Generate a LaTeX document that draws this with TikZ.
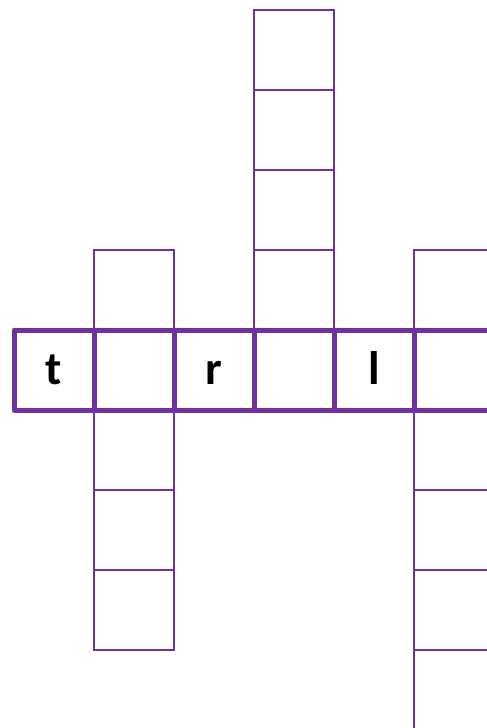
\documentclass[tikz,border=0pt]{standalone}
\usepackage{fontspec}
\setsansfont{Carlito}
\usepackage{tikz}
\usetikzlibrary{positioning}
\definecolor{gridpurple}{RGB}{112,48,160}

\begin{document}
\begin{tikzpicture}[
  x=1pt, y=-1pt,
  cell/.style={rectangle, draw=gridpurple, line width=2pt, minimum size=80pt, inner sep=0pt},
  rowcell/.style={cell, line width=5pt, line join=round, text height=28pt, text depth=0pt,
    font=\sffamily\bfseries\fontsize{47}{47}\selectfont}
]
  \useasboundingbox (0,0) rectangle (487,728);
  \clip (0,0) rectangle (487,728);
  % columns going across the row
  \foreach \y [count=\i] in {290,450,530,610}
    \node[cell] (a\i) at (134,\y) {};
  \foreach \y [count=\i] in {50,130,210,290}
    \node[cell] (b\i) at (294,\y) {};
  \foreach \y [count=\i] in {290,450,530,610,690}
    \node[cell] (c\i) at (454,\y) {};
  % the main row
  \node[rowcell] (r1) at (54,370) {t};
  \node[rowcell] (r2) at (134,370) {};
  \node[rowcell] (r3) at (214,370) {r};
  \node[rowcell] (r4) at (294,370) {};
  \node[rowcell] (r5) at (374,370) {l};
  \node[rowcell] (r6) at (454,370) {};
\end{tikzpicture}
\end{document}
